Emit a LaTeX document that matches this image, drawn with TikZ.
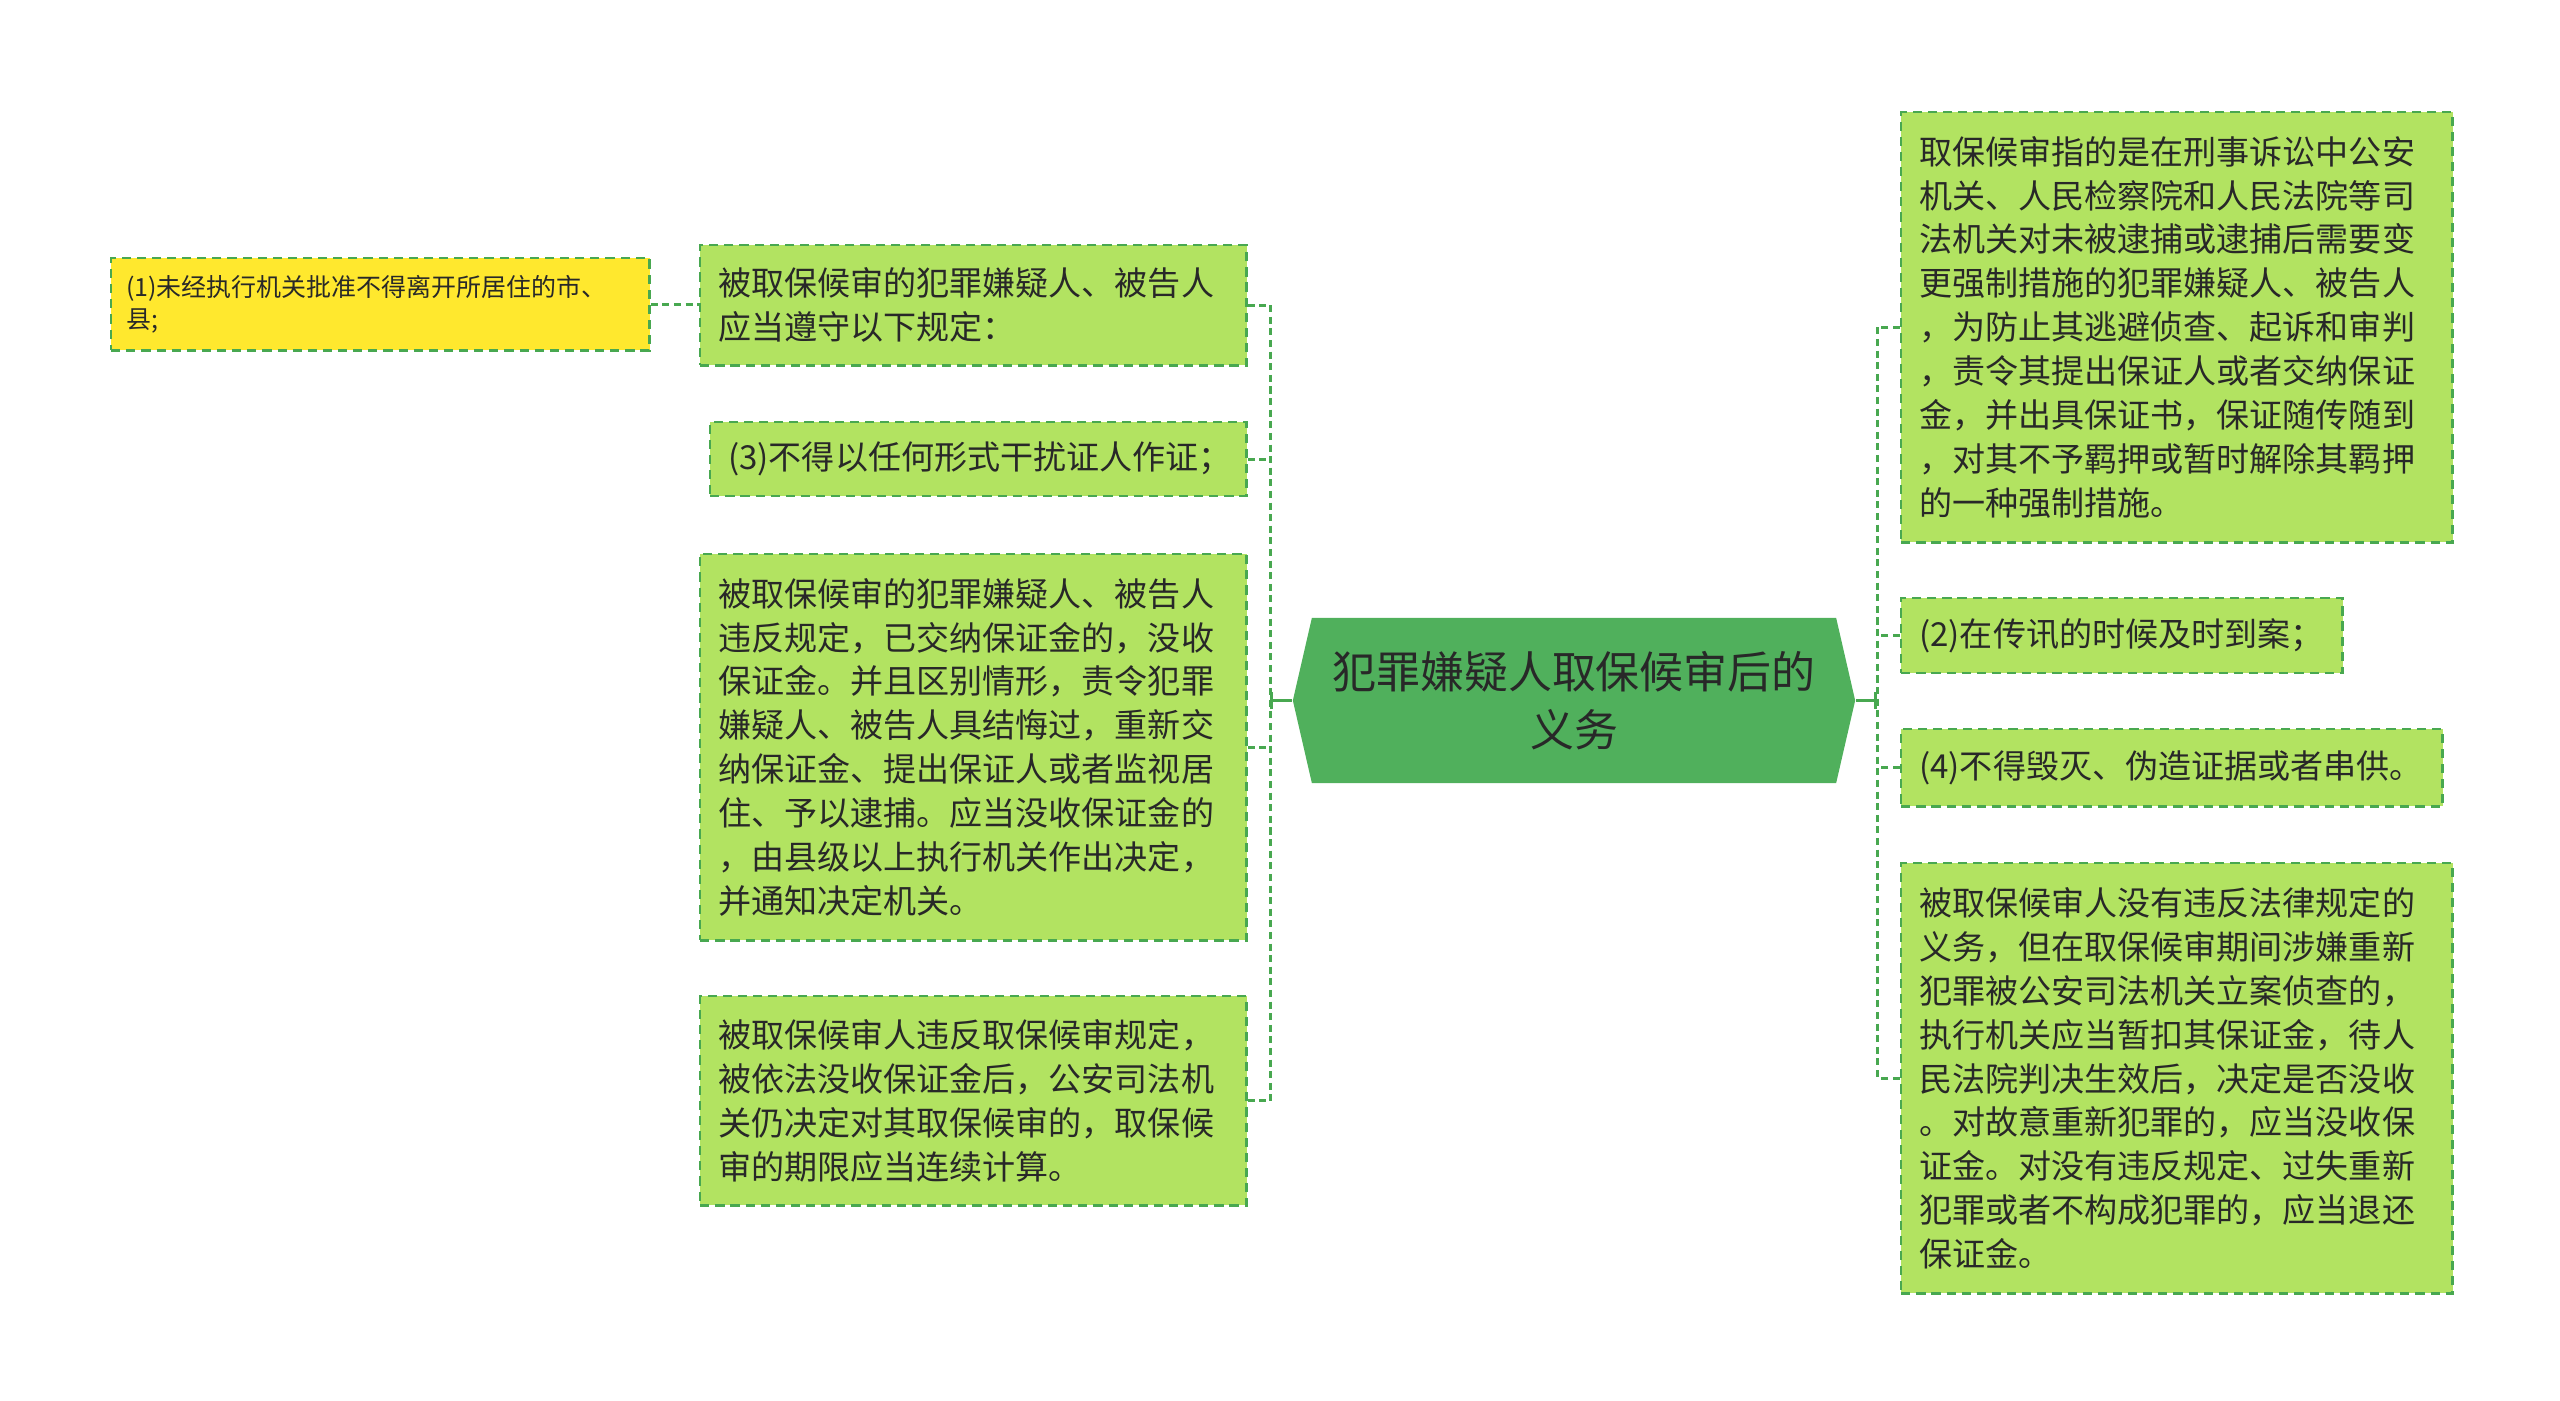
\documentclass[tikz,border=0pt]{standalone}
\usepackage{fontspec}
\setmainfont{Noto Sans CJK SC}
\usetikzlibrary{arrows.meta}

\definecolor{leafgreen}{RGB}{178,227,97}
\definecolor{edgegreen}{RGB}{72,168,80}
\definecolor{hubgreen}{RGB}{80,176,92}
\definecolor{noteyellow}{RGB}{255,232,46}
\definecolor{inkgray}{RGB}{40,40,40}

\begin{document}
\begin{tikzpicture}[x=0.01cm,y=-0.01cm,semithick]
  \tikzstyle{leaf}=[draw=edgegreen,fill=leafgreen,line width=0.7pt,dash pattern=on 2.6pt off 1.7pt,anchor=north west,align=left,inner xsep=0.18cm,inner ysep=0pt,text=inkgray,font=\fontsize{9.4pt}{12.5pt}\selectfont]
  \tikzstyle{note}=[leaf,fill=noteyellow,inner xsep=0.15cm,font=\fontsize{7.1pt}{9.3pt}\selectfont]
  \tikzstyle{hub}=[minimum width=5.62cm,minimum height=1.65cm,inner sep=0pt,align=center,text=inkgray,font=\fontsize{12.5pt}{16.5pt}\selectfont,
    path picture={\fill[hubgreen] (path picture bounding box.west) -- ([xshift=0.19cm]path picture bounding box.north west) -- ([xshift=-0.19cm]path picture bounding box.north east) -- (path picture bounding box.east) -- ([xshift=-0.19cm]path picture bounding box.south east) -- ([xshift=0.19cm]path picture bounding box.south west) -- cycle;}]
  \tikzstyle{link}=[draw=edgegreen,line width=0.85pt,dash pattern=on 2pt off 1.3pt]
  \tikzstyle{stem}=[draw=edgegreen,line width=0.85pt,-{Bar[width=5pt]}]

  \useasboundingbox (0,0) rectangle (2560,1401);

  \node[hub] (hub) at (1574,700.5) {犯罪嫌疑人取保候审后的\\义务};

  \node[note,text width=5.08cm,minimum height=0.92cm] (note) at (110,257) {(1)未经执行机关批准不得离开所居住的市、\\县;};
  \node[leaf,text width=5.1cm,minimum height=1.2cm] (L1) at (699,244) {被取保候审的犯罪嫌疑人、被告人\\应当遵守以下规定：};
  \node[leaf,text width=5.0cm,minimum height=0.74cm] (L2) at (709,421) {(3)不得以任何形式干扰证人作证；};
  \node[leaf,text width=5.1cm,minimum height=3.86cm] (L3) at (699,553) {被取保候审的犯罪嫌疑人、被告人\\违反规定，已交纳保证金的，没收\\保证金。并且区别情形，责令犯罪\\嫌疑人、被告人具结悔过，重新交\\纳保证金、提出保证人或者监视居\\住、予以逮捕。应当没收保证金的\\，由县级以上执行机关作出决定，\\并通知决定机关。};
  \node[leaf,text width=5.1cm,minimum height=2.09cm] (L4) at (699,995) {被取保候审人违反取保候审规定，\\被依法没收保证金后，公安司法机\\关仍决定对其取保候审的，取保候\\审的期限应当连续计算。};

  \node[leaf,text width=5.15cm,minimum height=4.3cm] (R1) at (1900,111) {取保候审指的是在刑事诉讼中公安\\机关、人民检察院和人民法院等司\\法机关对未被逮捕或逮捕后需要变\\更强制措施的犯罪嫌疑人、被告人\\，为防止其逃避侦查、起诉和审判\\，责令其提出保证人或者交纳保证\\金，并出具保证书，保证随传随到\\，对其不予羁押或暂时解除其羁押\\的一种强制措施。};
  \node[leaf,text width=4.05cm,minimum height=0.75cm] (R2) at (1900,597) {(2)在传讯的时候及时到案；};
  \node[leaf,text width=5.05cm,minimum height=0.77cm] (R3) at (1900,728) {(4)不得毁灭、伪造证据或者串供。};
  \node[leaf,text width=5.15cm,minimum height=4.3cm] (R4) at (1900,862) {被取保候审人没有违反法律规定的\\义务，但在取保候审期间涉嫌重新\\犯罪被公安司法机关立案侦查的，\\执行机关应当暂扣其保证金，待人\\民法院判决生效后，决定是否没收\\。对故意重新犯罪的，应当没收保\\证金。对没有违反规定、过失重新\\犯罪或者不构成犯罪的，应当退还\\保证金。};

  \coordinate (lbus) at (1270,0);
  \coordinate (rbus) at (1877,0);

  \draw[stem] (hub.west) -- (hub.west -| lbus);
  \draw[stem] (hub.east) -- (hub.east -| rbus);
  \draw[link] (L1.east -| lbus) -- (L4.east -| lbus);
  \draw[link] (R1.west -| rbus) -- (R4.west -| rbus);
  \foreach \n in {L1,L2,L3,L4}
    \draw[link] (\n.east) -- (\n.east -| lbus);
  \foreach \n in {R1,R2,R3,R4}
    \draw[link] (\n.west) -- (\n.west -| rbus);
  \draw[link] (note.east) -- (note.east -| L1.west);
\end{tikzpicture}
\end{document}
